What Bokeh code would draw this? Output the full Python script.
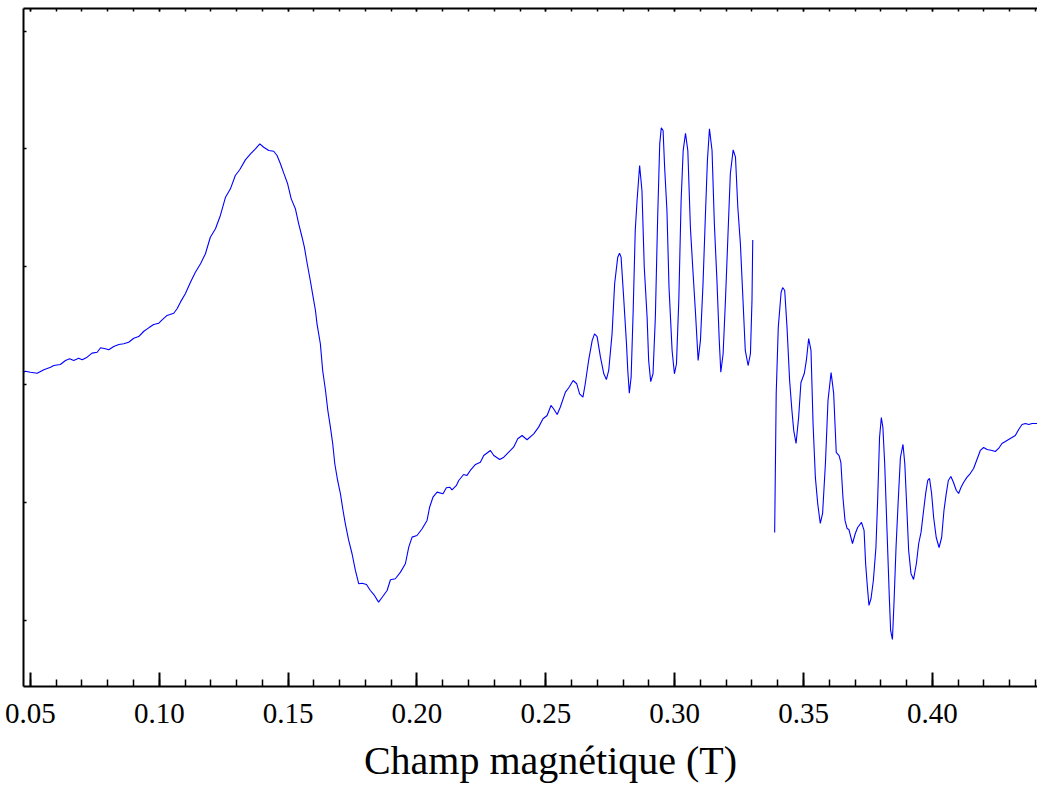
from bokeh.plotting import figure
from bokeh.models import Range1d, LinearAxis, SingleIntervalTicker, FixedTicker, PrintfTickFormatter
from bokeh.embed import file_html
from bokeh.resources import INLINE

# ---- data ----
x_label = "Champ magnétique (T)"
x_ticks_interval = 0.05
y_ticks = [-2, -1, 0, 1, 2, 3]

# first segment of the spectrum (field in T, intensity in arbitrary units)
seg1_field = [
    0.0473, 0.0481, 0.0500, 0.0526, 0.0552, 0.0578, 0.0590, 0.0616, 0.0636, 0.0652,
    0.0668, 0.0687, 0.0701, 0.0720, 0.0739, 0.0759, 0.0772, 0.0791, 0.0804, 0.0823,
    0.0843, 0.0862, 0.0881, 0.0901, 0.0920, 0.0940, 0.0959, 0.0978, 0.0998, 0.1011,
    0.1030, 0.1056, 0.1069, 0.1082, 0.1101, 0.1121, 0.1140, 0.1160, 0.1179, 0.1198,
    0.1218, 0.1237, 0.1257, 0.1276, 0.1295, 0.1312, 0.1334, 0.1354, 0.1373, 0.1390,
    0.1405, 0.1425, 0.1444, 0.1457, 0.1470, 0.1483, 0.1498, 0.1512, 0.1528, 0.1541,
    0.1554, 0.1563, 0.1574, 0.1586, 0.1597, 0.1606, 0.1612, 0.1625, 0.1634, 0.1645,
    0.1654, 0.1664, 0.1673, 0.1681, 0.1692, 0.1703, 0.1713, 0.1722, 0.1735, 0.1748,
    0.1761, 0.1774, 0.1787, 0.1804, 0.1819, 0.1835, 0.1851, 0.1865, 0.1884, 0.1897,
    0.1916, 0.1936, 0.1955, 0.1968, 0.1981, 0.2000, 0.2020, 0.2039, 0.2049, 0.2062,
    0.2078, 0.2101, 0.2114, 0.2127, 0.2136, 0.2153, 0.2162, 0.2181, 0.2194, 0.2207,
    0.2227, 0.2246, 0.2259, 0.2285, 0.2298, 0.2321, 0.2337, 0.2356, 0.2375, 0.2391,
    0.2408, 0.2427, 0.2453, 0.2472, 0.2489, 0.2505, 0.2520, 0.2530, 0.2544, 0.2556,
    0.2576, 0.2589, 0.2606, 0.2620, 0.2631, 0.2644, 0.2653, 0.2666, 0.2680, 0.2689,
    0.2699, 0.2712, 0.2725, 0.2735, 0.2744, 0.2757, 0.2767, 0.2779, 0.2786, 0.2792,
    0.2802, 0.2813, 0.2818, 0.2824, 0.2831, 0.2839, 0.2847, 0.2854, 0.2864, 0.2873,
    0.2882, 0.2893, 0.2899, 0.2907, 0.2916, 0.2925, 0.2934, 0.2942, 0.2948, 0.2955,
    0.2961, 0.2970, 0.2978, 0.2990, 0.2999, 0.3007, 0.3016, 0.3025, 0.3033, 0.3042,
    0.3051, 0.3061, 0.3070, 0.3081, 0.3091, 0.3100, 0.3110, 0.3119, 0.3127, 0.3135,
    0.3145, 0.3154, 0.3164, 0.3173, 0.3179, 0.3188, 0.3197, 0.3207, 0.3216, 0.3227,
    0.3236, 0.3245, 0.3255, 0.3264, 0.3274, 0.3285, 0.3294, 0.3300, 0.3303,
]
seg1_intensity = [
    0.104, 0.113, 0.104, 0.096, 0.125, 0.147, 0.161, 0.170, 0.204, 0.218,
    0.204, 0.223, 0.210, 0.232, 0.266, 0.274, 0.312, 0.303, 0.295, 0.323,
    0.340, 0.346, 0.359, 0.393, 0.407, 0.452, 0.481, 0.509, 0.520, 0.549,
    0.586, 0.605, 0.643, 0.699, 0.770, 0.868, 0.953, 1.025, 1.110, 1.250,
    1.322, 1.435, 1.590, 1.661, 1.774, 1.823, 1.907, 1.958, 2.001, 2.043,
    2.014, 1.986, 1.980, 1.944, 1.874, 1.794, 1.704, 1.576, 1.492, 1.364,
    1.250, 1.166, 1.025, 0.883, 0.741, 0.628, 0.515, 0.346, 0.119, -0.051,
    -0.221, -0.362, -0.503, -0.673, -0.815, -0.928, -1.070, -1.183, -1.324, -1.437,
    -1.579, -1.692, -1.687, -1.698, -1.749, -1.791, -1.848, -1.806, -1.749, -1.658,
    -1.649, -1.593, -1.522, -1.381, -1.296, -1.282, -1.225, -1.154, -1.042, -0.957,
    -0.914, -0.928, -0.877, -0.872, -0.894, -0.857, -0.815, -0.764, -0.772, -0.730,
    -0.679, -0.660, -0.603, -0.560, -0.603, -0.637, -0.617, -0.575, -0.532, -0.461,
    -0.433, -0.469, -0.419, -0.362, -0.291, -0.263, -0.178, -0.206, -0.255, -0.193,
    -0.065, -0.028, 0.034, 0.006, -0.079, -0.108, 0.006, 0.204, 0.374, 0.430,
    0.407, 0.232, 0.091, 0.042, 0.119, 0.430, 0.855, 1.081, 1.115, 1.081,
    0.741, 0.346, 0.119, -0.074, 0.062, 0.628, 1.307, 1.562, 1.859, 1.647,
    0.996, 0.571, 0.204, 0.024, 0.091, 0.571, 1.420, 2.043, 2.179, 2.156,
    1.845, 1.477, 0.826, 0.289, 0.091, 0.176, 0.713, 1.562, 1.986, 2.133,
    1.986, 1.335, 0.996, 0.600, 0.204, 0.374, 0.855, 1.420, 1.902, 2.171,
    1.986, 1.364, 0.883, 0.374, 0.104, 0.261, 0.713, 1.279, 1.789, 1.992,
    1.930, 1.505, 1.194, 0.770, 0.289, 0.161, 0.261, 0.713, 1.227,
]

# second segment (after the gap around 0.33-0.34 T)
seg2_field = [
    0.3388, 0.3394, 0.3402, 0.3413, 0.3419, 0.3427, 0.3436, 0.3446, 0.3455, 0.3462,
    0.3471, 0.3481, 0.3490, 0.3503, 0.3511, 0.3520, 0.3529, 0.3537, 0.3546, 0.3555,
    0.3565, 0.3574, 0.3585, 0.3595, 0.3607, 0.3617, 0.3627, 0.3638, 0.3645, 0.3653,
    0.3661, 0.3669, 0.3676, 0.3690, 0.3701, 0.3710, 0.3725, 0.3735, 0.3741, 0.3748,
    0.3754, 0.3762, 0.3771, 0.3781, 0.3788, 0.3795, 0.3802, 0.3808, 0.3815, 0.3824,
    0.3833, 0.3838, 0.3845, 0.3851, 0.3859, 0.3867, 0.3876, 0.3886, 0.3893, 0.3899,
    0.3908, 0.3917, 0.3927, 0.3938, 0.3947, 0.3956, 0.3966, 0.3974, 0.3982, 0.3989,
    0.3997, 0.4005, 0.4015, 0.4026, 0.4036, 0.4045, 0.4054, 0.4062, 0.4072, 0.4082,
    0.4093, 0.4102, 0.4111, 0.4121, 0.4134, 0.4147, 0.4160, 0.4176, 0.4186, 0.4199,
    0.4212, 0.4232, 0.4244, 0.4257, 0.4270, 0.4283, 0.4296, 0.4309, 0.4322, 0.4335,
    0.4348, 0.4361, 0.4374, 0.4387, 0.4400, 0.4408,
]
seg2_intensity = [
    -1.256, -0.076, 0.484, 0.781, 0.823, 0.798, 0.484, 0.034, -0.221, -0.390,
    -0.501, -0.280, 0.017, 0.093, 0.204, 0.390, 0.289, -0.331, -0.789, -1.010,
    -1.180, -1.095, -0.671, -0.136, 0.102, -0.076, -0.577, -0.603, -0.662, -0.959,
    -1.154, -1.222, -1.231, -1.350, -1.265, -1.214, -1.171, -1.239, -1.520, -1.723,
    -1.876, -1.817, -1.664, -1.384, -0.959, -0.450, -0.280, -0.365, -0.671, -1.239,
    -1.808, -2.088, -2.165, -1.859, -1.384, -1.010, -0.620, -0.509, -0.671, -0.959,
    -1.409, -1.604, -1.655, -1.520, -1.350, -1.256, -1.070, -0.925, -0.815, -0.798,
    -0.925, -1.129, -1.299, -1.384, -1.299, -1.070, -0.925, -0.815, -0.781, -0.832,
    -0.900, -0.925, -0.874, -0.832, -0.789, -0.756, -0.713, -0.620, -0.560, -0.535,
    -0.552, -0.560, -0.569, -0.543, -0.501, -0.484, -0.467, -0.450, -0.433, -0.382,
    -0.340, -0.331, -0.340, -0.331, -0.331, -0.331,
]

SERIF = "Liberation Serif"

p = figure(width=1037, height=791, output_backend="svg", toolbar_location=None,
           x_range=Range1d(0.0473, 0.4408), y_range=Range1d(-2.564, 3.192),
           min_border_left=23, min_border_right=0, min_border_top=8, min_border_bottom=105,
           x_axis_location=None, y_axis_location=None)
p.outline_line_color = None
p.background_fill_color = "white"
p.border_fill_color = "white"
p.xgrid.visible = False
p.ygrid.visible = False

# bottom axis; the label is shifted right of the frame centre (as in the reference)
# with non-breaking spaces in front of it
bottom = LinearAxis(ticker=SingleIntervalTicker(interval=x_ticks_interval, num_minor_ticks=5),
                    formatter=PrintfTickFormatter(format="%.2f"),
                    axis_label="\u00a0" * 4 + x_label)
bottom.axis_line_width = 2
bottom.axis_line_color = "black"
bottom.major_tick_in = 14
bottom.major_tick_out = 0
bottom.minor_tick_in = 7
bottom.minor_tick_out = 0
bottom.major_tick_line_width = 2
bottom.minor_tick_line_width = 1.5
bottom.major_tick_line_color = "black"
bottom.minor_tick_line_color = "black"
bottom.major_label_text_font = SERIF
bottom.major_label_text_font_size = "29px"
bottom.major_label_text_color = "black"
bottom.major_label_standoff = 17
bottom.axis_label_text_font = SERIF
bottom.axis_label_text_font_size = "40px"
bottom.axis_label_text_font_style = "normal"
bottom.axis_label_text_color = "black"
bottom.axis_label_standoff = 12
p.add_layout(bottom, "below")

# top axis (ticks only, no labels)
top = LinearAxis(ticker=SingleIntervalTicker(interval=x_ticks_interval, num_minor_ticks=5))
top.axis_line_width = 2
top.axis_line_color = "black"
top.major_tick_in = 3
top.major_tick_out = 0
top.minor_tick_in = 3
top.minor_tick_out = 0
top.major_tick_line_width = 1.5
top.minor_tick_line_width = 1.5
top.major_label_text_font_size = "0px"
top.major_label_text_color = None
top.major_label_standoff = 0
p.add_layout(top, "above")

# left axis (ticks only, no labels)
left = LinearAxis(ticker=FixedTicker(ticks=y_ticks, minor_ticks=[]))
left.axis_line_width = 2
left.axis_line_color = "black"
left.major_tick_in = 3
left.major_tick_out = 0
left.major_tick_line_width = 1.5
left.minor_tick_in = 0
left.minor_tick_out = 0
left.major_label_text_font_size = "0px"
left.major_label_text_color = None
left.major_label_standoff = 0
p.add_layout(left, "left")

p.line(seg1_field, seg1_intensity, line_color="#0000ff", line_width=1.1)
p.line(seg2_field, seg2_intensity, line_color="#0000ff", line_width=1.1)

open("out.html", "w").write(file_html(p, INLINE))
